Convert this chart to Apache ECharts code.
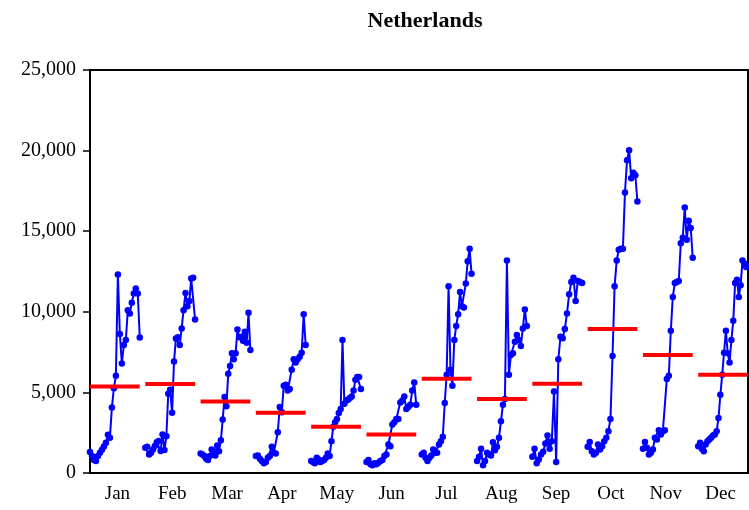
<!DOCTYPE html>
<html>
<head>
<meta charset="utf-8">
<title>Netherlands</title>
<script src="https://cdn.jsdelivr.net/npm/echarts@6/dist/echarts.min.js"></script>
<style>
  html, body { margin: 0; padding: 0; background: #ffffff; }
  #chart { width: 749px; height: 510px; }
</style>
</head>
<body>
<div id="chart"></div>
<script>
// Monthly values, one observation per year, in chronological order
const monthNames = ['Jan', 'Feb', 'Mar', 'Apr', 'May', 'Jun', 'Jul', 'Aug', 'Sep', 'Oct', 'Nov', 'Dec'];

const jan = [1300, 1050, 800, 750, 1050, 1250, 1450, 1650, 1870, 2380, 2180, 4070, 5260, 6030, 12320, 8620, 6800, 7940, 8250, 10100, 9900, 10560, 11130, 11440, 11130, 8410];
const feb = [1570, 1630, 1150, 1260, 1460, 1670, 1910, 1980, 1360, 2390, 1420, 2280, 4920, 5160, 3730, 6910, 8350, 8420, 7940, 8970, 10100, 11170, 10350, 10670, 12060, 12120, 9530];
const mar = [1215, 1154, 1049, 888, 802, 1049, 1462, 1357, 1092, 1709, 1357, 2036, 3313, 4714, 4134, 6151, 6645, 7429, 7058, 7429, 8909, 8416, 8453, 8206, 8761, 8083, 9934, 7632];
const apr = [1049, 1092, 888, 740, 598, 679, 950, 1049, 1629, 1259, 1215, 2530, 4097, 3764, 5411, 5473, 5121, 5207, 6398, 7058, 6849, 7058, 7219, 7466, 9853, 7941];
const may = [740, 679, 598, 950, 845, 679, 740, 802, 950, 1215, 1049, 1975, 2863, 3147, 3356, 3726, 3973, 8249, 4300, 4504, 4547, 4652, 4751, 5121, 5781, 5948, 5948, 5207];
const jun = [679, 802, 537, 475, 598, 537, 642, 740, 802, 1049, 1154, 1771, 1666, 3005, 3147, 3356, 3356, 4381, 4504, 4751, 3973, 4097, 4239, 5121, 5615, 4239];
const jul = [1154, 1259, 950, 740, 950, 1092, 1462, 1259, 1259, 1771, 1975, 2246, 4344, 6090, 11581, 6398, 5411, 8249, 9113, 9853, 11229, 10347, 10267, 11748, 13142, 13907, 12365];
const aug = [740, 1012, 1505, 475, 740, 1259, 1154, 1092, 1913, 1419, 1629, 2184, 3208, 4239, 4590, 13185, 6090, 7324, 7429, 8144, 8558, 8249, 7879, 8971, 10143, 9113];
const sep = [1011, 1505, 598, 845, 1152, 1320, 1832, 2326, 1505, 1975, 5059, 679, 7058, 8453, 8354, 8928, 9897, 11087, 11846, 12118, 10674, 11908, 11846, 11785];
const oct = [1627, 1916, 1357, 1152, 1256, 1769, 1461, 1666, 1975, 2182, 2593, 3355, 7262, 11581, 13185, 13845, 13907, 13907, 17399, 19398, 20015, 18288, 18633, 18473, 16844];
const nov = [1505, 1916, 1567, 1152, 1256, 1461, 2182, 2078, 2653, 2386, 2593, 2653, 5825, 6030, 8824, 10921, 11785, 11846, 11908, 14253, 14586, 16474, 14462, 15653, 15203, 13352];
const dec = [1666, 1873, 1505, 1357, 1769, 1975, 2078, 2182, 2326, 2386, 2593, 3418, 4856, 6090, 7466, 8824, 7429, 6849, 8249, 9440, 11785, 11994, 10921, 11643, 13185, 13019, 12772, 12815];

// Average level of each month across all years
const monthMeans = [5370, 5515, 4440, 3730, 2865, 2390, 5845, 4590, 5535, 8930, 7325, 6090];

const yTicks = [0, 5000, 10000, 15000, 20000, 25000];

const monthly = [jan, feb, mar, apr, may, jun, jul, aug, sep, oct, nov, dec];

// Each month occupies one unit on the x scale; its years fill 0.9 of that unit
const SPAN = 0.9;

const series = [];
monthly.forEach(function (vals, m) {
  const n = vals.length;
  series.push({
    name: monthNames[m],
    type: 'line',
    xAxisIndex: 0,
    yAxisIndex: 0,
    data: vals.map(function (v, i) { return [m + SPAN * i / (n - 1), v]; }),
    symbol: 'circle',
    symbolSize: 6.5,
    showSymbol: true,
    lineStyle: { color: '#0000ff', width: 2 },
    itemStyle: { color: '#0000ff' },
    silent: true,
    animation: false,
    z: 2
  });
});
monthMeans.forEach(function (mean, m) {
  series.push({
    name: monthNames[m] + ' mean',
    type: 'line',
    xAxisIndex: 0,
    yAxisIndex: 0,
    data: [[m, mean], [m + SPAN, mean]],
    symbol: 'none',
    lineStyle: { color: '#ff0000', width: 4 },
    silent: true,
    animation: false,
    z: 3
  });
});

const chart = echarts.init(document.getElementById('chart'), null, { renderer: 'canvas' });
chart.setOption({
  backgroundColor: '#ffffff',
  animation: false,
  title: {
    text: 'Netherlands',
    left: 420,
    top: 5,
    textAlign: 'center',
    textStyle: {
      fontFamily: 'Liberation Serif',
      fontWeight: 'bold',
      fontSize: 22,
      color: '#000000'
    }
  },
  grid: {
    left: 90,
    right: 1,
    top: 70,
    bottom: 37,
    show: true,
    borderColor: '#000000',
    borderWidth: 2,
    backgroundColor: 'transparent'
  },
  xAxis: [
    {
      type: 'value',
      min: 0,
      max: 12 - (1 - SPAN),
      show: false
    },
    {
      type: 'category',
      data: monthNames,
      boundaryGap: true,
      position: 'bottom',
      axisLine: { show: true, lineStyle: { color: '#000000', width: 2 } },
      axisTick: { show: false },
      splitLine: { show: false },
      axisLabel: {
        margin: 12,
        fontFamily: 'Liberation Serif',
        fontSize: 19,
        color: '#000000'
      }
    }
  ],
  yAxis: {
    type: 'value',
    min: yTicks[0],
    max: yTicks[yTicks.length - 1],
    interval: yTicks[1] - yTicks[0],
    axisLine: { show: true, lineStyle: { color: '#000000', width: 2 } },
    axisTick: { show: true, inside: false, length: 7, lineStyle: { color: '#000000', width: 1.5 } },
    splitLine: { show: false },
    axisLabel: {
      margin: 14,
      fontFamily: 'Liberation Serif',
      fontSize: 20,
      color: '#000000',
      formatter: function (v) { return v.toLocaleString('en-US'); }
    }
  },
  series: series
});
</script>
</body>
</html>
